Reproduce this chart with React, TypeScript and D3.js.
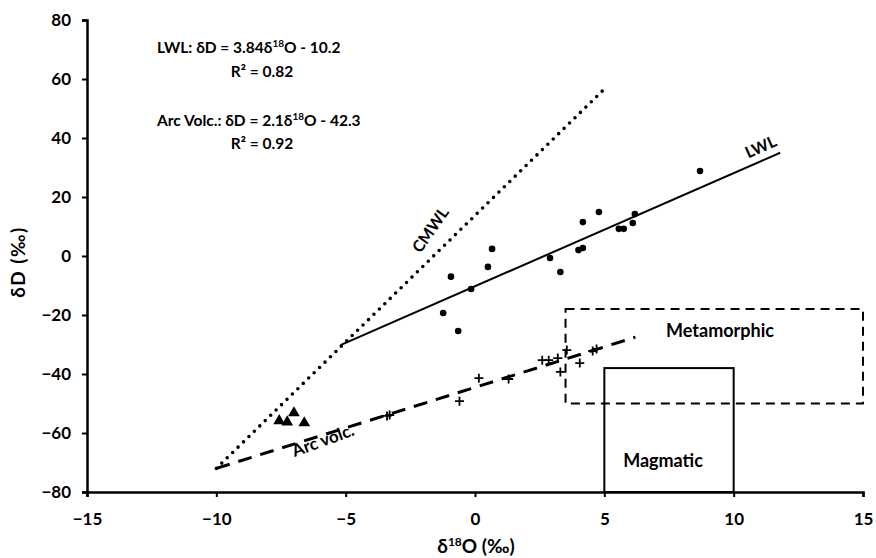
import React from "react";
import * as d3 from "d3";

// sample points
const waterX = [8.7, 4.17, 4.79, 6.18, 6.1, 5.56, 5.75, 4.0, 4.17, 2.9, 3.3, 0.66, 0.5, -0.93, -0.15, -1.23, -0.65];
const waterY = [28.8, 11.5, 14.9, 14.2, 11.2, 9.2, 9.2, 2.0, 2.7, -0.7, -5.4, 2.4, -3.7, -7.0, -11.2, -19.3, -25.4];

const arcX = [-3.4, -3.3, -0.6, 0.15, 1.3, 2.6, 2.85, 3.2, 3.55, 3.3, 4.05, 4.55, 4.7];
const arcY = [-54.2, -53.9, -49.2, -41.4, -41.7, -35.3, -35.3, -34.6, -31.9, -39.3, -36.3, -32.2, -31.5];

const triX = [-7.57, -7.26, -7.0, -6.6];
const triY = [-55.9, -56.3, -53.2, -56.6];

// line end points [x0, y0, x1, y1]
const lwlLine = [-5.2, -30.2, 11.8, 35.0];
const cmwlLine = [-10, -72, 5.0, 56.6];
const arcLine = [-10, -72, 6.2, -27.5];

// boxes [x0, x1, y0, y1]
const metaBox = [3.5, 15, -50, -18];
const magBox = [5, 10, -80, -38];

const xTicks = [-15, -10, -5, 0, 5, 10, 15];
const yTicks = [-80, -60, -40, -20, 0, 20, 40, 60, 80];

export default function App() {
    const ref = React.useRef<SVGSVGElement>(null);

    React.useEffect(() => {
        const width = 876;
        const height = 558;
        const font = "Lato, 'Open Sans', sans-serif";

        const x = d3.scaleLinear().domain([-15, 15]).range([87, 863]);
        const y = d3.scaleLinear().domain([-80, 80]).range([492, 20]);

        const svg = d3.select(ref.current)
            .attr("width", width)
            .attr("height", height)
            .attr("viewBox", [0, 0, width, height])
            .style("font-family", font);
        svg.selectAll("*").remove();

        svg.append("rect").attr("width", width).attr("height", height).attr("fill", "white");

        // boxes
        svg.append("rect")
            .attr("x", x(metaBox[0])).attr("y", y(metaBox[3]))
            .attr("width", x(metaBox[1]) - x(metaBox[0]))
            .attr("height", y(metaBox[2]) - y(metaBox[3]))
            .attr("fill", "none").attr("stroke", "black").attr("stroke-width", 2)
            .attr("stroke-dasharray", "9 6");
        svg.append("rect")
            .attr("x", x(magBox[0])).attr("y", y(magBox[3]))
            .attr("width", x(magBox[1]) - x(magBox[0]))
            .attr("height", y(magBox[2]) - y(magBox[3]))
            .attr("fill", "none").attr("stroke", "black").attr("stroke-width", 2);

        // lines
        const seg = (l: number[]) => svg.append("line")
            .attr("x1", x(l[0])).attr("y1", y(l[1]))
            .attr("x2", x(l[2])).attr("y2", y(l[3]))
            .attr("stroke", "black");
        seg(lwlLine).attr("stroke-width", 2);
        seg(cmwlLine).attr("stroke-width", 3.6).attr("stroke-linecap", "round").attr("stroke-dasharray", "0 7.6");
        seg(arcLine).attr("stroke-width", 3).attr("stroke-dasharray", "14 9");

        // points
        svg.append("g").selectAll("circle")
            .data(waterX.map((v, i) => [v, waterY[i]]))
            .join("circle")
            .attr("cx", d => x(d[0])).attr("cy", d => y(d[1])).attr("r", 3.3);

        svg.append("g").selectAll("path")
            .data(arcX.map((v, i) => [v, arcY[i]]))
            .join("path")
            .attr("transform", d => `translate(${x(d[0])},${y(d[1])})`)
            .attr("d", "M-4.5,0H4.5M0,-4.5V4.5")
            .attr("stroke", "black").attr("stroke-width", 1.8);

        const tri = d3.symbol().type(d3.symbolTriangle).size(60);
        svg.append("g").selectAll("path")
            .data(triX.map((v, i) => [v, triY[i]]))
            .join("path")
            .attr("transform", d => `translate(${x(d[0])},${y(d[1])})`)
            .attr("d", tri());

        // axes
        const ax = svg.append("g").attr("transform", `translate(0,${y(-80)})`)
            .call(d3.axisBottom(x).tickValues(xTicks).tickSize(5).tickFormat(d3.format("d")));
        const ay = svg.append("g").attr("transform", `translate(${x(-15)},0)`)
            .call(d3.axisLeft(y).tickValues(yTicks).tickSize(5).tickFormat(d3.format("d")));
        for (const g of [ax, ay]) {
            g.select(".domain").attr("stroke-width", 2.5);
            g.selectAll(".tick line").attr("stroke-width", 2);
            g.selectAll(".tick text")
                .attr("font-size", 17).attr("font-weight", "bold").attr("font-family", font);
        }
        ax.selectAll(".tick text").attr("dy", null).attr("y", 33);
        ay.selectAll(".tick text").attr("x", -16);

        // axis titles
        const xt = svg.append("text").attr("x", 476).attr("y", 553)
            .attr("text-anchor", "middle").attr("font-size", 19).attr("font-weight", "bold");
        xt.append("tspan").text("δ");
        xt.append("tspan").attr("font-size", 12).attr("dy", -7).text("18");
        xt.append("tspan").attr("dy", 7).text("O (‰)");

        svg.append("text")
            .attr("transform", `translate(25,${y(0) + 6}) rotate(-90)`)
            .attr("text-anchor", "middle").attr("font-size", 19).attr("font-weight", "bold")
            .attr("letter-spacing", 1.5)
            .text("δD (‰)");

        // equations
        const eq = (yy: number, pre: string, post: string) => {
            const t = svg.append("text").attr("x", 157).attr("y", yy)
                .attr("font-size", 15.5).attr("font-weight", "bold");
            t.append("tspan").text(pre);
            t.append("tspan").attr("font-size", 10).attr("dy", -6).text("18");
            t.append("tspan").attr("dy", 6).text(post);
        };
        eq(53, "LWL: δD = 3.84δ", "O - 10.2");
        eq(126, "Arc Volc.: δD = 2.1δ", "O - 42.3");
        for (const [yy, s] of [[77, "R² = 0.82"], [149, "R² = 0.92"]] as [number, string][]) {
            svg.append("text").attr("x", 262).attr("y", yy).attr("text-anchor", "middle")
                .attr("font-size", 15.5).attr("font-weight", "bold").text(s);
        }

        // labels
        const label = (px: number, py: number, rot: number, s: string, fs: number) =>
            svg.append("text")
                .attr("transform", `translate(${px},${py}) rotate(${rot})`)
                .attr("text-anchor", "middle").attr("font-size", fs).attr("font-weight", "bold")
                .text(s);
        label(763, 152, -24, "LWL", 16);
        label(435, 233, -55, "CMWL", 16);
        label(325, 446, -20, "Arc volc.", 17);
        label(720, 337, 0, "Metamorphic", 18);
        label(663, 467, 0, "Magmatic", 18);
    }, []);

    return <svg ref={ref} style={{ position: "absolute", left: 0, top: 0 }}></svg>;
}
